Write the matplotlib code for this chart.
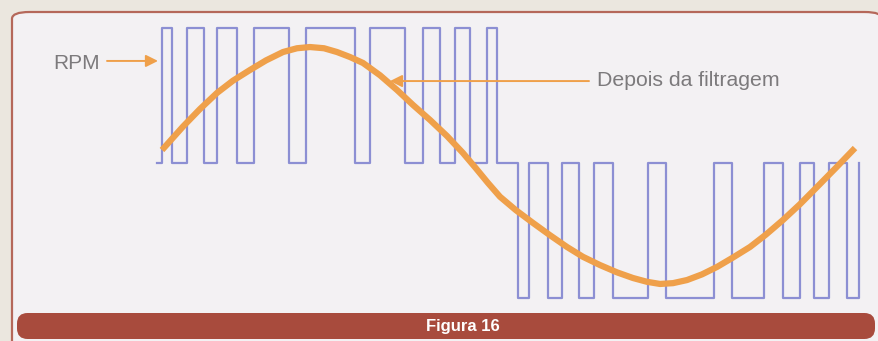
import matplotlib
matplotlib.use('Agg')
import matplotlib.pyplot as plt
from matplotlib.patches import FancyBboxPatch

# PWM (RPM) signal: edge times and the level held after each edge
pwm_t = [157, 162, 172, 187, 204, 217, 237, 254, 289, 306, 355, 370, 405, 423,
         440, 455, 470, 487, 497, 518, 529, 548, 562, 579, 594, 613, 648, 666,
         714, 732, 764, 783, 800, 814, 829, 847, 859]
pwm_level = [0, 1, 0, 1, 0, 1, 0, 1, 0, 1, 0, 1, 0, 1,
             0, 1, 0, 1, 0, -1, 0, -1, 0, -1, 0, -1, 0, -1,
             0, -1, 0, -1, 0, -1, 0, -1, 0]

# filtered output
filt_t = [162, 183, 200, 217, 233, 250, 266, 283, 297, 310, 324, 337, 350,
          363, 380, 397, 413, 430, 447, 463, 476, 488, 500, 516, 533, 550,
          567, 583, 600, 617, 633, 647, 660, 673, 687, 702, 717, 733, 750,
          766, 783, 800, 817, 836, 855]
filt_v = [0.096, 0.27, 0.40, 0.519, 0.61, 0.689, 0.76, 0.822, 0.85, 0.859,
          0.85, 0.822, 0.785, 0.741, 0.65, 0.541, 0.43, 0.319, 0.20, 0.074,
          -0.04, -0.148, -0.25, -0.35, -0.444, -0.535, -0.622, -0.695, -0.756,
          -0.81, -0.852, -0.88, -0.896, -0.89, -0.867, -0.825, -0.770, -0.70,
          -0.622, -0.53, -0.422, -0.305, -0.178, -0.035, 0.111]

label_rpm = 'RPM'
label_filt = 'Depois da filtragem'
caption = 'Figura 16'

blue = '#8c8fd3'
orange = '#efa04a'
grey = '#7c7a7c'
brick = '#a84b3d'

fig = plt.figure(figsize=(8.79, 3.41), dpi=100)
fig.patch.set_facecolor('#ebe7df')

ax = fig.add_axes([0, 0, 1, 1])
ax.set_xlim(0, 879)
ax.set_ylim((163 - 341) / 135, 163 / 135)
ax.axis('off')

# rounded box and caption band (behind the traces)
box = FancyBboxPatch((12 / 879, -0.2), 0.99, 1 - 12 / 341 + 0.2,
                     boxstyle='round,pad=0,rounding_size=0.02',
                     transform=fig.transFigure, facecolor='#f3f1f3',
                     edgecolor='#b5685a', linewidth=1.6, zorder=0)
ax.add_patch(box)
band = FancyBboxPatch((17 / 879, 2 / 341), 858 / 879, 26 / 341,
                      boxstyle='round,pad=0,rounding_size=0.012',
                      transform=fig.transFigure, facecolor=brick,
                      edgecolor='none', mutation_aspect=879 / 341, zorder=1)
ax.add_patch(band)
ax.text(463 / 879, 15 / 341, caption, color='white', fontsize=12,
        fontweight='bold', ha='center', va='center',
        transform=fig.transFigure, family='Liberation Sans')

ax.step(pwm_t, pwm_level, where='post', color=blue, lw=1.6, zorder=2)
ax.plot(filt_t, filt_v, color=orange, lw=4.5, solid_capstyle='butt',
        solid_joinstyle='round', zorder=3)

ax.text(53, 0.74, label_rpm, color=grey, fontsize=15, va='center', ha='left',
        family='Liberation Sans')
ax.annotate('', xy=(158, 0.756), xytext=(107, 0.756),
            arrowprops=dict(arrowstyle='-|>', color=orange, lw=1.4,
                            mutation_scale=18, shrinkA=0, shrinkB=0))
ax.annotate('', xy=(390, 0.607), xytext=(589, 0.607),
            arrowprops=dict(arrowstyle='-|>', color=orange, lw=1.4,
                            mutation_scale=18, shrinkA=0, shrinkB=0))
ax.text(597, 0.61, label_filt, color=grey, fontsize=15.3, va='center', ha='left',
        family='Liberation Sans')

plt.savefig('out.png', dpi=100, facecolor=fig.get_facecolor())
